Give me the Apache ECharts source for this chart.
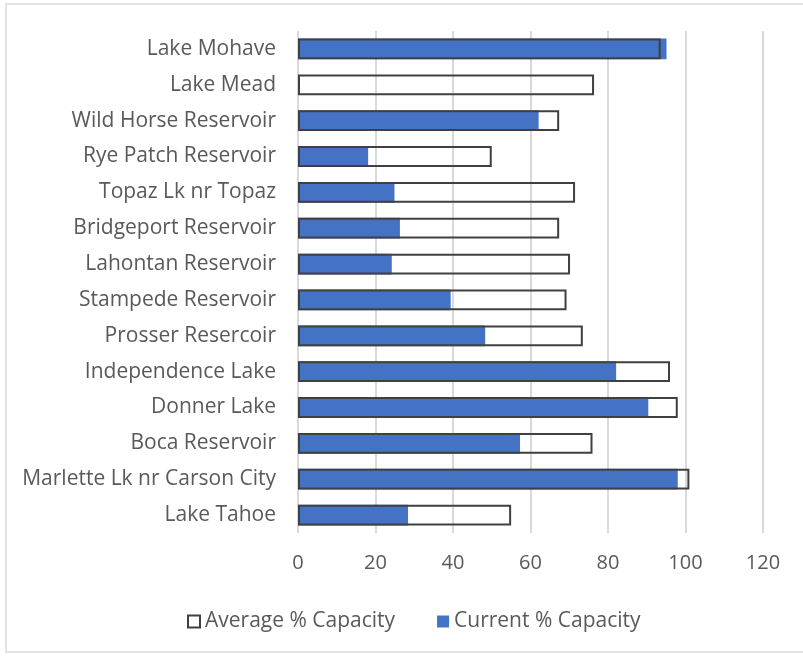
<!DOCTYPE html>
<html>
<head>
<meta charset="utf-8">
<script src="https://cdn.jsdelivr.net/npm/echarts@6/dist/echarts.min.js"></script>
<style>
  html, body { margin: 0; padding: 0; background: #fff; }
  #frame { position: absolute; left: 5px; top: 3px; width: 803px; height: 650px; border: 2px solid #e3e3e3; box-sizing: border-box; }
  #chart { position: absolute; left: 0; top: 0; width: 803px; height: 656px; }
</style>
</head>
<body>
<div id="frame"></div>
<div id="chart"></div>
<script>
    // categories listed bottom -> top (category axis on y starts at bottom)
    var lakes = ['Lake Tahoe', 'Marlette Lk nr Carson City', 'Boca Reservoir', 'Donner Lake',
        'Independence Lake', 'Prosser Resercoir', 'Stampede Reservoir', 'Lahontan Reservoir',
        'Bridgeport Reservoir', 'Topaz Lk nr Topaz', 'Rye Patch Reservoir', 'Wild Horse Reservoir',
        'Lake Mead', 'Lake Mohave'];
    var averageCapacity = [55, 101, 76, 98, 96, 73.5, 69.3, 70.2, 67.4, 71.5, 50, 67.4, 76.4, 93.6];
    var currentCapacity = [28.4, 98, 57.3, 90.4, 82.1, 48.3, 39.4, 24.2, 26.3, 24.9, 18.1, 62.1, 0, 95.1];
    var xTicks = [0, 20, 40, 60, 80, 100, 120];

    var textColor = '#595959';
    var fontName = 'Open Sans';

    var myChart = echarts.init(document.getElementById('chart'));
    myChart.setOption({
        animation: false,
        grid: {
            left: 298,
            right: 40,
            top: 31,
            bottom: 123
        },
        legend: {
            bottom: 19,
            left: 182,
            itemGap: 42,
            itemWidth: 12,
            itemHeight: 12,
            textStyle: { color: textColor, fontSize: 21, fontFamily: fontName },
            data: [
                { name: 'Average % Capacity', icon: 'rect', itemStyle: { color: '#fff', borderColor: '#404040', borderWidth: 2 } },
                { name: 'Current % Capacity', icon: 'rect' }
            ]
        },
        xAxis: {
            type: 'value',
            min: xTicks[0],
            max: xTicks[xTicks.length - 1],
            interval: 20,
            axisLine: { show: false },
            axisTick: { show: false },
            axisLabel: { color: textColor, fontSize: 20, fontFamily: fontName, margin: 20 },
            splitLine: { lineStyle: { color: '#d9d9d9', width: 2 } }
        },
        yAxis: {
            type: 'category',
            data: lakes,
            axisLine: { show: false },
            axisTick: { show: false },
            axisLabel: { color: textColor, fontSize: 21, fontFamily: fontName, margin: 22 }
        },
        series: [
            {
                name: 'Current % Capacity',
                type: 'bar',
                data: currentCapacity,
                barWidth: '58%',
                barGap: '-100%',
                itemStyle: { color: '#4472c4' },
                z: 2
            },
            {
                name: 'Average % Capacity',
                type: 'bar',
                data: averageCapacity,
                barWidth: '58%',
                barGap: '-100%',
                itemStyle: { color: 'rgba(255,255,255,0)', borderColor: '#404040', borderWidth: 2 },
                z: 3
            }
        ]
    });
</script>
</body>
</html>
